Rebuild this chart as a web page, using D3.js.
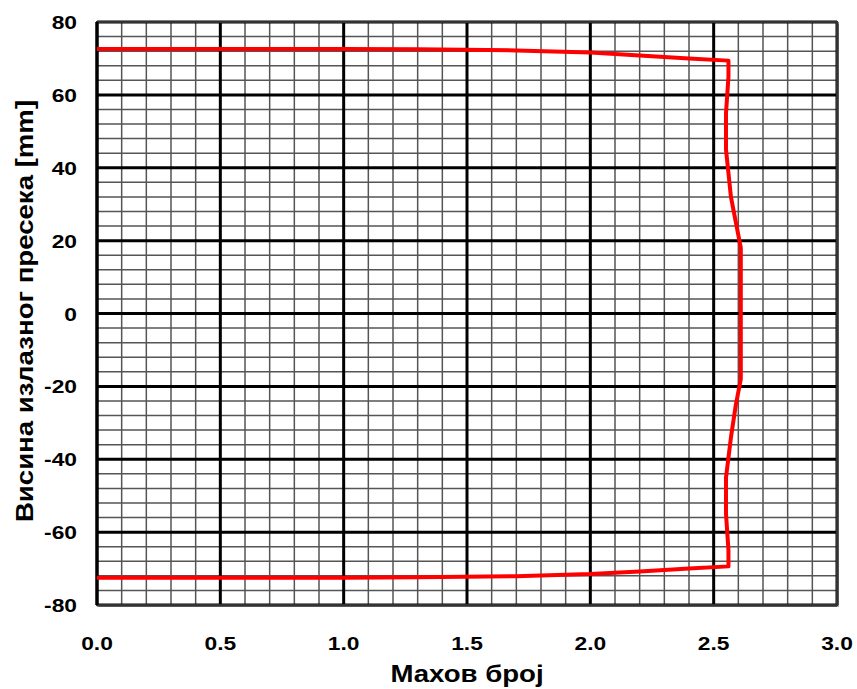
<!DOCTYPE html>
<html><head><meta charset="utf-8">
<script src="https://cdn.jsdelivr.net/npm/d3@7"></script>
<style>body{margin:0;background:#fff;} text{font-family:"Liberation Sans",Arial,sans-serif;font-weight:bold;}</style>
</head><body><svg id="c" width="857" height="689"></svg>
<script>
const machValues = [0, 1.0, 1.3, 1.7, 2.0, 2.2, 2.4, 2.56, 2.56, 2.55, 2.55, 2.57, 2.59, 2.61, 2.61, 2.61, 2.59, 2.57, 2.55, 2.55, 2.56, 2.56, 2.4, 2.2, 2.0, 1.7, 1.3, 1.0, 0];
const heightValues = [72.6, 72.6, 72.5, 72.2, 71.6, 70.8, 70.0, 69.4, 65, 55, 45, 32, 25, 18, 0, -18, -25, -34, -45, -55, -65, -69.4, -70.0, -70.8, -71.5, -72.1, -72.4, -72.5, -72.5];
const xTicks = [0, 0.5, 1.0, 1.5, 2.0, 2.5, 3.0];
const yTicks = [-80, -60, -40, -20, 0, 20, 40, 60, 80];
const xLabel = "Махов број";
const yLabel = "Висина излазног пресека [mm]";

const L = 97, R = 837, T = 22, B = 605;
const SX = 1.2;
const svg = d3.select("#c");
const x = d3.scaleLinear().domain([0, 3]).range([L, R]);
const y = d3.scaleLinear().domain([-80, 80]).range([B, T]);

svg.append("rect").attr("x", L + 2).attr("y", T + 2).attr("width", R - L).attr("height", B - T).attr("fill", "#aaa");
svg.append("rect").attr("x", L).attr("y", T).attr("width", R - L).attr("height", B - T).attr("fill", "#fff");

const minorX = d3.range(0, 31).map(i => i / 10).filter(v => !xTicks.some(t => Math.abs(t - v) < 1e-9));
const minorY = d3.range(-80, 81, 4).filter(v => !yTicks.includes(v));
const g = svg.append("g");
g.selectAll(".mx").data(minorX).join("line").attr("x1", d => x(d)).attr("x2", d => x(d)).attr("y1", T).attr("y2", B).attr("stroke", "#555").attr("stroke-width", 1.5);
g.selectAll(".my").data(minorY).join("line").attr("y1", d => y(d)).attr("y2", d => y(d)).attr("x1", L).attr("x2", R).attr("stroke", "#555").attr("stroke-width", 1.5);
g.selectAll(".Mx").data(xTicks).join("line").attr("x1", d => x(d)).attr("x2", d => x(d)).attr("y1", T).attr("y2", B).attr("stroke", "#000").attr("stroke-width", 3);
g.selectAll(".My").data(yTicks).join("line").attr("y1", d => y(d)).attr("y2", d => y(d)).attr("x1", L).attr("x2", R).attr("stroke", "#000").attr("stroke-width", 3);
svg.append("rect").attr("x", L).attr("y", T).attr("width", R - L).attr("height", B - T).attr("fill", "none").attr("stroke", "#333").attr("stroke-width", 2);
svg.append("line").attr("x1", L).attr("x2", L).attr("y1", T).attr("y2", B).attr("stroke", "#000").attr("stroke-width", 3);

const pts = machValues.map((m, i) => [m, heightValues[i]]);
svg.append("path").datum(pts).attr("d", d3.line().x(d => x(d[0])).y(d => y(d[1])))
  .attr("fill", "none").attr("stroke", "#ff0000").attr("stroke-width", 4).attr("stroke-linejoin", "round");

svg.selectAll(".xt").data(xTicks).join("text")
  .attr("transform", d => `translate(${x(d)},650) scale(${SX},1)`).attr("text-anchor", "middle")
  .attr("font-size", 19).text(d => d.toFixed(1));
svg.selectAll(".yt").data(yTicks).join("text")
  .attr("transform", d => `translate(77,${y(d) + 7}) scale(${SX},1)`).attr("text-anchor", "end")
  .attr("font-size", 19).text(d => d);
svg.append("text").attr("transform", `translate(${(L + R) / 2},682) scale(${SX},1)`).attr("text-anchor", "middle").attr("font-size", 23).text(xLabel);
svg.append("text").attr("transform", `translate(33,311) rotate(-90) scale(${SX},1)`).attr("text-anchor", "middle").attr("font-size", 23).text(yLabel);
</script></body></html>
